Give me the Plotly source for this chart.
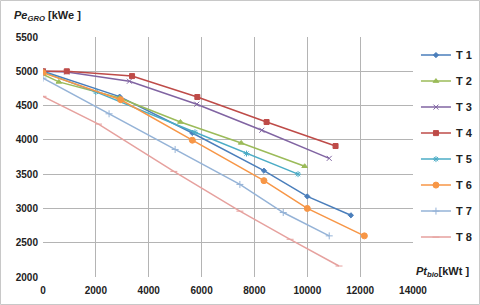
import plotly.graph_objects as go

names = ["T 1", "T 2", "T 3", "T 4", "T 5", "T 6", "T 7", "T 8"]
t1_x = [0, 2900, 5650, 8360, 10000, 11650]
t1_y = [5000, 4630, 4100, 3550, 3175, 2900]
t2_x = [0, 600, 2900, 5200, 7500, 9900]
t2_y = [4955, 4845, 4610, 4260, 3955, 3615]
t3_x = [0, 900, 3270, 5820, 8280, 10830]
t3_y = [5000, 4990, 4855, 4520, 4140, 3730]
t4_x = [0, 900, 3370, 5840, 8460, 11070]
t4_y = [5000, 5000, 4930, 4625, 4260, 3910]
t5_x = [0, 2000, 5750, 7700, 9650]
t5_y = [4990, 4700, 4110, 3800, 3500]
t6_x = [0, 2940, 5650, 8360, 10000, 12160]
t6_y = [4980, 4585, 3995, 3405, 3000, 2600]
t7_x = [0, 2500, 5000, 7450, 9090, 10830]
t7_y = [4900, 4380, 3860, 3350, 2940, 2600]
t8_x = [0, 2100, 4950, 7450, 9350, 11200]
t8_y = [4635, 4230, 3540, 2960, 2550, 2160]

xs = [t1_x, t2_x, t3_x, t4_x, t5_x, t6_x, t7_x, t8_x]
ys = [t1_y, t2_y, t3_y, t4_y, t5_y, t6_y, t7_y, t8_y]
colors = ["#4A7EBB", "#9BBB59", "#8064A2", "#BE4B48", "#4BACC6", "#F79646", "#95B3D7", "#E6A19E"]
symbols = ["diamond", "triangle-up", "x-thin-open", "square", "asterisk-open", "circle", "cross-thin-open", "line-ew-open"]
sizes = [4, 5, 5, 5, 5, 6, 5, 5]

fig = go.Figure()
for i in range(8):
    fig.add_trace(go.Scatter(
        x=xs[i], y=ys[i], name=names[i], mode="lines+markers",
        line=dict(color=colors[i], width=1.5),
        marker=dict(symbol=symbols[i], size=sizes[i], color=colors[i],
                    line=dict(color=colors[i], width=1)),
        legendgroup=str(i),
    ))

font_fam = "Liberation Sans, Arial, sans-serif"
fig.update_layout(
    width=480, height=305,
    margin=dict(l=43, r=67, t=37, b=28, autoexpand=False),
    paper_bgcolor="white", plot_bgcolor="white",
    showlegend=True,
    legend=dict(x=1.008, y=0.985, xanchor="left", yanchor="top",
                font=dict(family=font_fam, size=11, color="#222", weight="bold"),
                tracegroupgap=7, itemwidth=30, bgcolor="rgba(0,0,0,0)"),
    xaxis=dict(range=[0, 14000], dtick=2000, showgrid=True, gridcolor="#B4B4B4", gridwidth=1,
               zeroline=False, showline=False, ticks="", ticklabelstandoff=6,
               tickfont=dict(family=font_fam, size=10, color="#222", weight="bold"), tickformat="d"),
    yaxis=dict(range=[2000, 5500], dtick=500, showgrid=True, gridcolor="#B4B4B4", gridwidth=1,
               zeroline=False, showline=False, ticks="", ticklabelstandoff=4,
               tickfont=dict(family=font_fam, size=10, color="#222", weight="bold"), tickformat="d"),
    font=dict(family=font_fam),
)
# outer border
fig.add_shape(type="rect", xref="paper", yref="paper",
              x0=-42.5/370, x1=436.5/370, y0=-27.5/240, y1=276.5/240,
              line=dict(color="#C8C8C8", width=1), layer="below")
fig.add_annotation(xref="paper", yref="paper", x=-31/370, y=(277-16)/240,
                   xanchor="left", yanchor="middle", showarrow=False,
                   text="<b><i>Pe</i></b><sub><b><i>GRO</i></b></sub><b> [kWe ]</b>",
                   font=dict(family=font_fam, size=11, color="#222"))
fig.add_annotation(xref="paper", yref="paper", x=371/370, y=(277-272)/240,
                   xanchor="left", yanchor="middle", showarrow=False,
                   text="<b><i>Pt</i></b><sub><b><i>bio</i></b></sub><b>[kWt ]</b>",
                   font=dict(family=font_fam, size=11, color="#222"))

fig.write_html("out.html", config={"displayModeBar": False},
               post_script="document.body.style.margin='0';document.body.style.padding='0';")
